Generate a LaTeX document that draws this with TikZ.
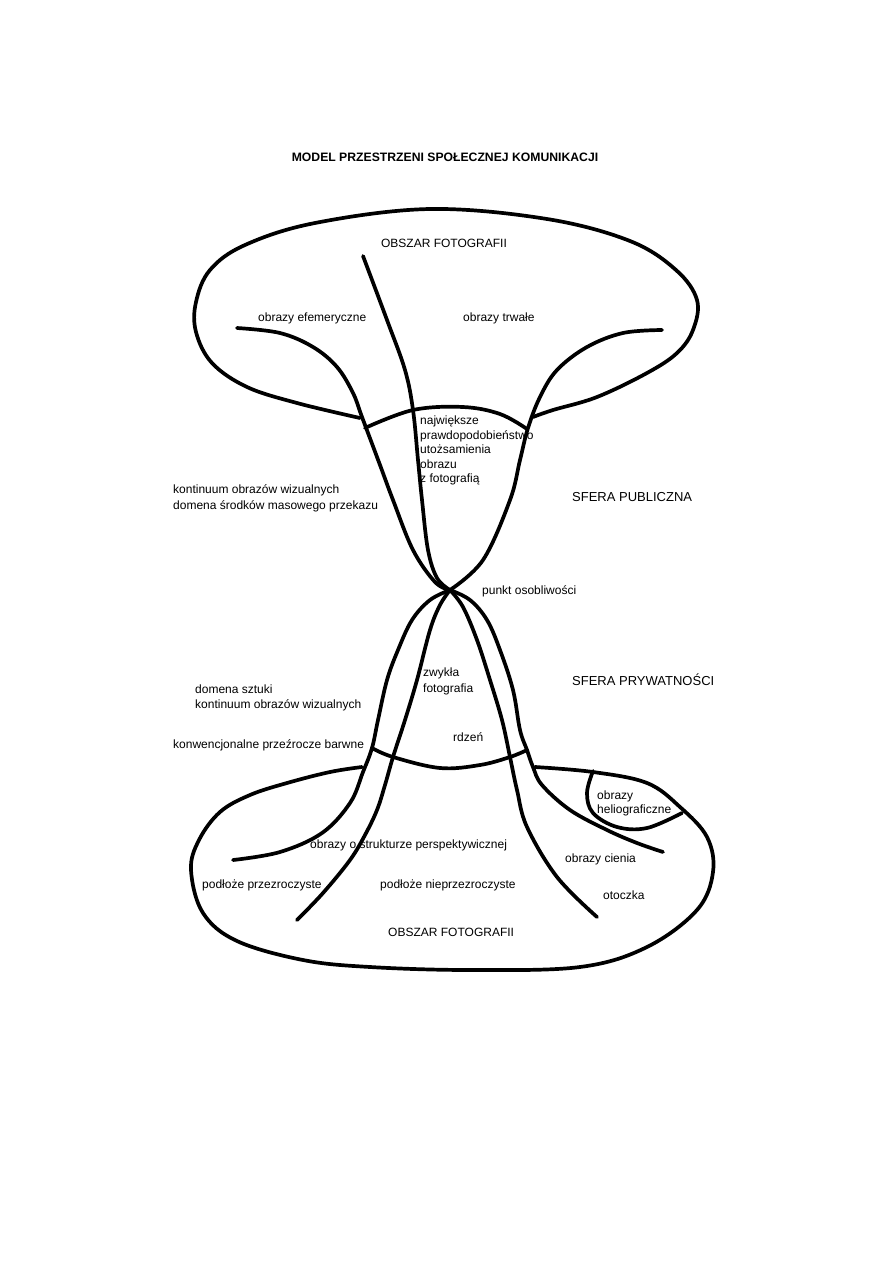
\documentclass[tikz,border=0pt]{standalone}
\usepackage{fontspec}
\setmainfont{Liberation Sans}
\begin{document}
\begin{tikzpicture}[x=1pt,y=-1pt,
  ln/.style={line width=3.7pt,line cap=round,line join=round},
  lbl/.style={inner sep=0pt,anchor=west,align=left,font=\fontsize{12}{15}\selectfont},
  big/.style={inner sep=0pt,anchor=west,font=\fontsize{13}{15}\selectfont},
  ttl/.style={inner sep=0pt,font=\bfseries\fontsize{12.2}{14}\selectfont}]
\useasboundingbox (0,0) rectangle (893,1262);
% ---------- texts ----------
\node[ttl] (title) at (445,157) {MODEL PRZESTRZENI SPOŁECZNEJ KOMUNIKACJI};
\node[lbl,anchor=center] (obsz1) at (444,243) {OBSZAR FOTOGRAFII};
\node[lbl] (efem) at (258,318) {obrazy efemeryczne};
\node[lbl] (trw) at (463,318) {obrazy trwałe};
\node[lbl,anchor=north west,font=\fontsize{12}{14.4}\selectfont] (najw) at (420,416)
  {największe\\prawdopodobieństwo\\utożsamienia\\obrazu\\z fotografią};
\node[lbl,font=\fontsize{12}{16}\selectfont] (kont1) at (173,498)
  {kontinuum obrazów wizualnych\\domena środków masowego przekazu};
\node[big] (publ) at (572,497) {SFERA PUBLICZNA};
\node[lbl] (punkt) at (482,591) {punkt osobliwości};
\node[lbl,font=\fontsize{12}{16}\selectfont] (zwyk) at (423,681) {zwykła\\fotografia};
\node[big] (pryw) at (572,680) {SFERA PRYWATNOŚCI};
\node[lbl] (rdzen) at (453,737) {rdzeń};
\node[lbl,font=\fontsize{12}{15}\selectfont] (dom) at (195,697.5) {domena sztuki\\kontinuum obrazów wizualnych};
\node[lbl] (konw) at (173,745) {konwencjonalne przeźrocze barwne};
\node[lbl] (strukt) at (310,845) {obrazy o strukturze perspektywicznej};
\node[lbl] (przez) at (202,885) {podłoże przezroczyste};
\node[lbl] (nieprz) at (380,885) {podłoże nieprzezroczyste};
\node[lbl] (obsz2) at (388,932) {OBSZAR FOTOGRAFII};
\node[lbl,font=\fontsize{12}{13.5}\selectfont] (helio) at (597,803.5) {obrazy\\heliograficzne};
\node[lbl] (cien) at (565,859) {obrazy cienia};
\node[lbl] (otocz) at (603,895) {otoczka};
% ---------- top blob ----------
\draw[ln] plot[smooth,tension=0.6] coordinates {(360,418) (297,403) (247,387) (212,363) (196,332) (196,302) (210,270) (245,245) (315,223) (430,209) (547,219) (630,241) (676,270) (697,300) (693,330) (677,353) (647,373) (597,397) (553,410) (533,417)};
\draw[ln] plot[smooth,tension=0.6] coordinates {(237,328) (280,333) (313,347) (337,367) (353,393) (362,417) (380,465) (393,500) (413,550) (435,582) (450,590)};
\draw[ln] plot[smooth,tension=0.6] coordinates {(662,330) (623,333) (587,347) (557,370) (540,397) (528,428) (520,460) (510,500) (483,560) (450,590)};
\draw[ln] plot[smooth,tension=0.6] coordinates {(363,256) (387,320) (405,370) (413,410) (418,460) (422,500) (428,550) (437,578) (450,590)};
\draw[ln] plot[smooth,tension=0.6] coordinates {(365,428) (413,410) (463,407) (500,414) (527,429)};
% ---------- lower part ----------
\draw[ln] plot[smooth,tension=0.6] coordinates {(450,590) (430,600) (412,620) (398,650) (387,680) (378,720) (372,748) (363,772) (350,803) (322,833) (280,852) (233,860)};
\draw[ln] plot[smooth,tension=0.6] coordinates {(450,590) (440,605) (430,630) (417,680) (405,720) (393,757) (385,785) (377,810) (365,835) (350,860) (323,893) (297,920)};
\draw[ln] plot[smooth,tension=0.6] coordinates {(450,590) (463,607) (477,640) (490,680) (502,720) (510,757) (517,790) (527,827) (557,877) (597,917)};
\draw[ln] plot[smooth,tension=0.6] coordinates {(450,590) (470,600) (487,620) (500,650) (513,690) (520,730) (527,750) (533,767) (542,785) (570,810) (607,830) (637,843) (663,852)};
\draw[ln] plot[smooth,tension=0.6] coordinates {(372,748) (393,757) (440,768) (480,765) (510,757) (527,750)};
\draw[ln] plot[smooth,tension=0.6] coordinates {(362,767) (330,772) (287,783) (250,795) (220,812) (199,840) (191,870) (203,913) (237,941) (303,960) (370,967) (470,970) (580,967) (647,947) (697,910) (713,872) (707,837) (680,807) (647,783) (593,772) (535,767)};
\draw[ln] plot[smooth,tension=0.6] coordinates {(593,771) (587,793) (593,813) (617,827) (647,828) (682,813)};
\end{tikzpicture}
\end{document}
